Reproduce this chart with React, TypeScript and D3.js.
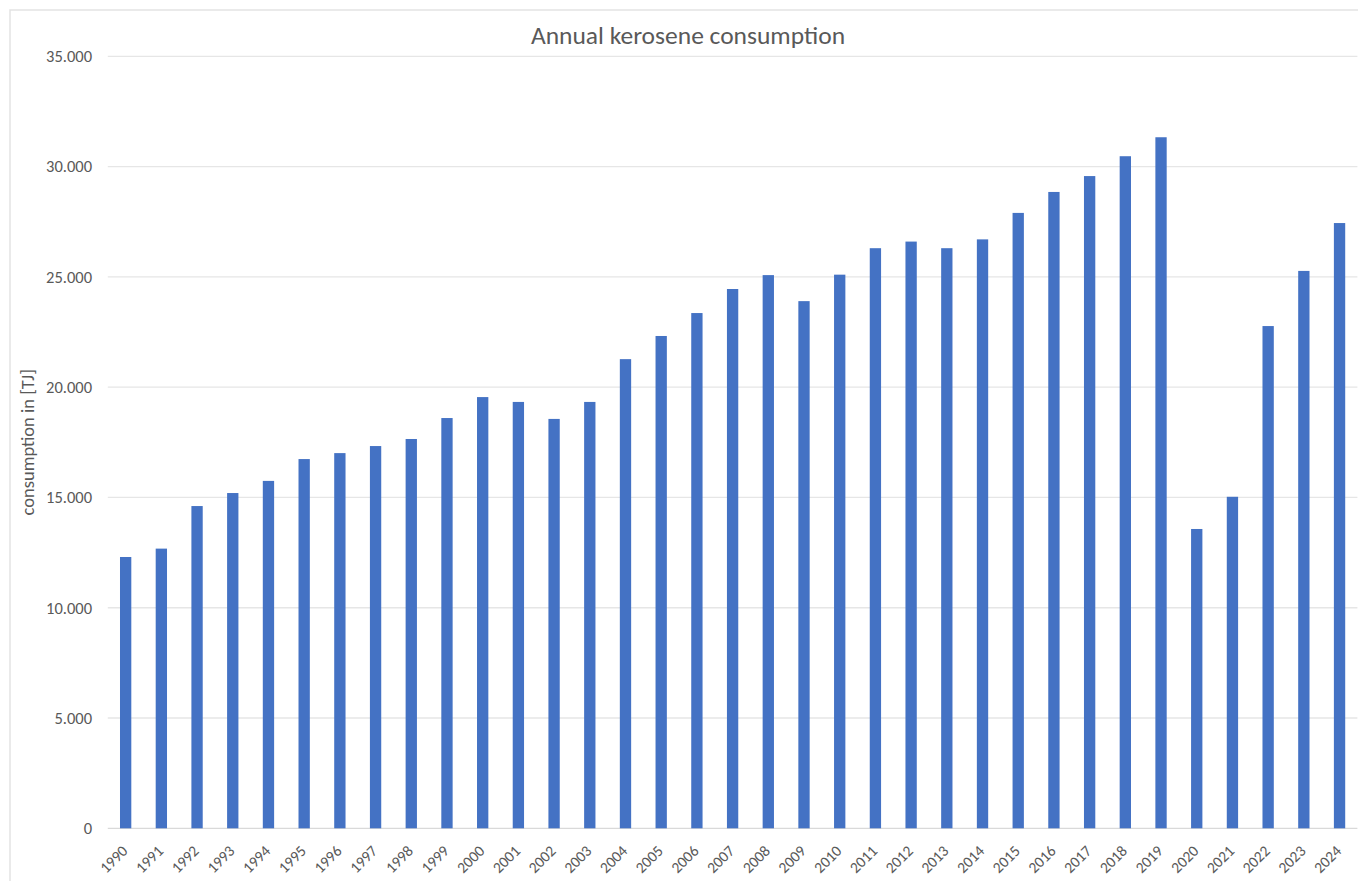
import React from "react";
import * as d3 from "d3";

const years: string[] = [
  "1990","1991","1992","1993","1994","1995","1996","1997","1998","1999",
  "2000","2001","2002","2003","2004","2005","2006","2007","2008","2009",
  "2010","2011","2012","2013","2014","2015","2016","2017","2018","2019",
  "2020","2021","2022","2023","2024",
];
const consumption: number[] = [
  12300, 12680, 14610, 15200, 15750, 16740, 17010, 17330, 17650, 18600,
  19550, 19330, 18560, 19330, 21270, 22320, 23360, 24450, 25080, 23900,
  25100, 26300, 26600, 26300, 26700, 27900, 28850, 29570, 30470, 31330,
  13570, 15030, 22770, 25270, 27440,
];
const yTicks: number[] = [0, 5000, 10000, 15000, 20000, 25000, 30000, 35000];
const title = "Annual kerosene consumption";
const yTitle = "consumption in [TJ]";

const W = 1358;
const H = 881;
const plotLeft = 107.8;
const plotRight = 1357.4;
const plotTop = 56.3;
const plotBottom = 828.3;
const FONT = "Carlito, Calibri, 'Open Sans', 'Noto Sans', sans-serif";

const fmt = (v: number) => (v === 0 ? "0" : d3.format(",")(v).replace(/,/g, "."));

export default function App() {
  const x = d3
    .scaleBand<string>()
    .domain(years)
    .range([plotLeft, plotRight])
    .paddingInner(0.683)
    .paddingOuter(0.3415);
  const y = d3.scaleLinear().domain([0, 35000]).range([plotBottom, plotTop]);

  return (
    <svg
      width={W}
      height={H}
      style={{ position: "absolute", left: 0, top: 0, background: "#fff" }}
    >
      <rect x={0} y={0} width={W} height={H} fill="#fff" />
      <rect
        x={10}
        y={10}
        width={W + 20}
        height={H + 20}
        fill="#fff"
        stroke="#e3e3e3"
        strokeWidth={1.5}
      />
      {yTicks.map((t) => (
        <g key={t}>
          <line
            x1={plotLeft}
            x2={plotRight}
            y1={y(t)}
            y2={y(t)}
            stroke={t === 0 ? "#d9d9d9" : "#e6e6e6"}
            strokeWidth={1.3}
          />
          <text
            x={92}
            y={y(t)}
            dy="0.35em"
            textAnchor="end"
            fontFamily={FONT}
            fontSize={16.5}
            fill="#595959"
          >
            {fmt(t)}
          </text>
        </g>
      ))}
      {years.map((yr, i) => (
        <rect
          key={yr}
          x={x(yr)}
          y={y(consumption[i])}
          width={x.bandwidth()}
          height={y(0) - y(consumption[i])}
          fill="#4472c4"
        />
      ))}
      {years.map((yr) => {
        const cx = (x(yr) as number) + x.bandwidth() / 2 - 1;
        const cy = 848;
        return (
          <text
            key={yr}
            transform={`translate(${cx},${cy}) rotate(-45)`}
            textAnchor="end"
            dy="0.35em"
            fontFamily={FONT}
            fontSize={15.5}
            fill="#595959"
          >
            {yr}
          </text>
        );
      })}
      <text
        transform={`translate(28,${(plotTop + plotBottom) / 2}) rotate(-90)`}
        textAnchor="middle"
        dy="0.35em"
        fontFamily={FONT}
        fontSize={18.5}
        fill="#595959"
      >
        {yTitle}
      </text>
      <text
        x={688}
        y={35}
        dy="0.35em"
        textAnchor="middle"
        fontFamily={FONT}
        fontSize={25.5}
        fill="#595959"
      >
        {title}
      </text>
    </svg>
  );
}
